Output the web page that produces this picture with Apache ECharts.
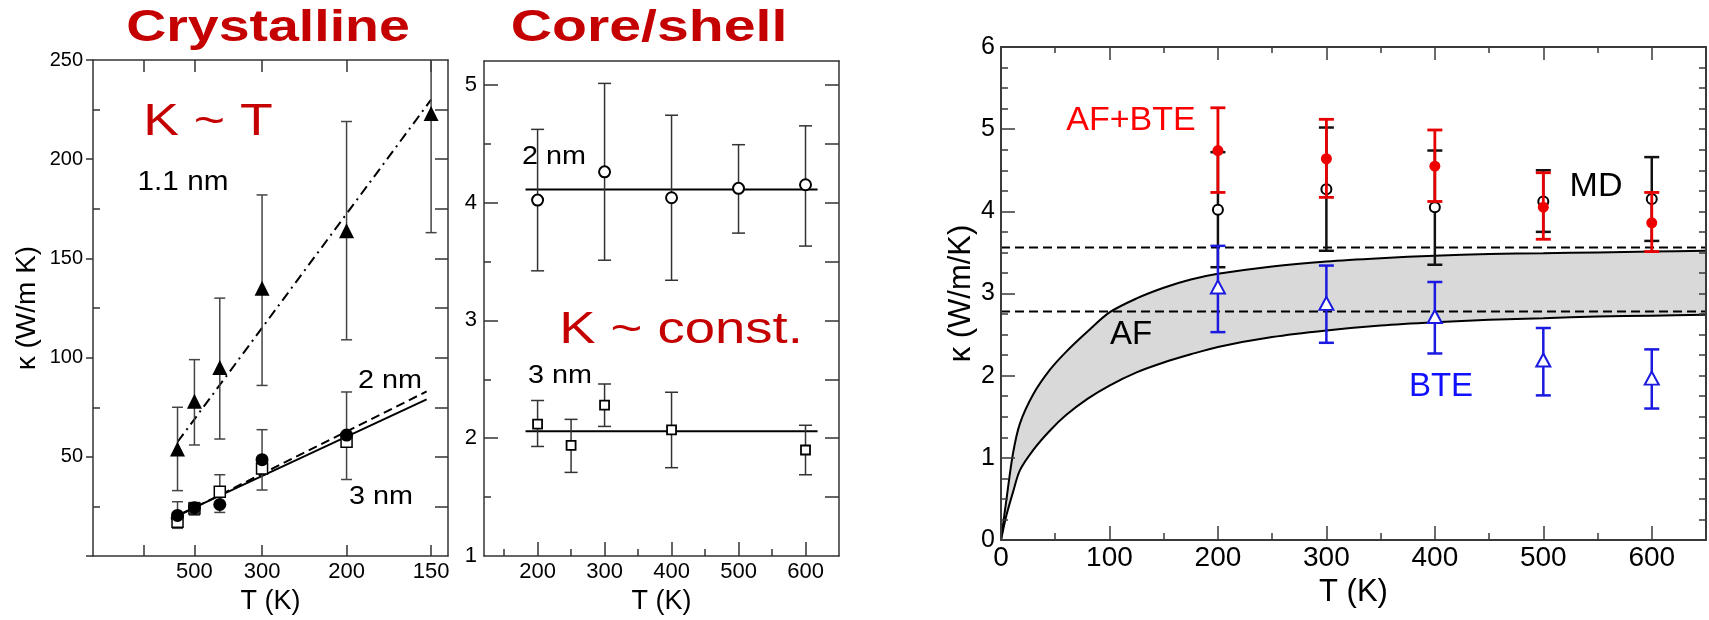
<!DOCTYPE html>
<html>
<head>
<meta charset="utf-8">
<title>Thermal conductivity of Si nanowires</title>
<script src="https://cdn.jsdelivr.net/npm/echarts@6/dist/echarts.min.js"></script>
<style>
  html, body { margin: 0; padding: 0; background: #fff; }
  #chart { width: 1709px; height: 620px; }
</style>
</head>
<body>
<div id="chart"></div>
<script>
// ---- Crystalline wires (x axis is 1000/T, labelled in T) ----
const crysT = [600, 500, 400, 300, 200, 150];
const k11 = [54, 78, 95, 135, 164, 223];          // 1.1 nm
const k11Lo = [33, 56, 59, 86, 109, 163];
const k11Hi = [75, 99, 130, 182, 219, 283];
const crysT2 = [600, 500, 400, 300, 200];
const k2nm = [20.5, 24.4, 26, 48.6, 61];          // 2 nm
const k3nm = [17.3, 24, 32.4, 44.2, 57.6];        // 3 nm
const kLowLo = [14, 20.7, 22, 33.3, 38.6];        // bars of the 2 / 3 nm points
const kLowHi = [27.4, 27, 41, 63.7, 82.7];
const fitT11 = [600, 150];
const fit11 = [57.5, 230];
const fitT23 = [650, 152];
const fit2nm = [18.5, 83];
const fit3nm = [19, 79];
const crysTickT = [1000, 500, 300, 200, 150];
const crysLabelT = [500, 300, 200, 150];

// ---- Core/shell wires ----
const csT2 = [200, 300, 400, 500, 600];
const cs2 = [4.02, 4.26, 4.04, 4.12, 4.15];
const cs2Lo = [3.42, 3.51, 3.34, 3.74, 3.63];
const cs2Hi = [4.62, 5.01, 4.74, 4.49, 4.65];
const csT3 = [200, 250, 300, 400, 600];
const cs3 = [2.12, 1.94, 2.28, 2.07, 1.90];
const cs3Lo = [1.93, 1.71, 2.10, 1.75, 1.69];
const cs3Hi = [2.32, 2.16, 2.46, 2.39, 2.11];
const csFitT = [182, 618];
const csFit2 = 4.11;
const csFit3 = 2.06;

// ---- MD / AF / BTE comparison ----
const tT = [200, 300, 400, 500, 600];
const md = [4.02, 4.27, 4.05, 4.12, 4.15];
const mdLo = [3.32, 3.52, 3.35, 3.75, 3.64];
const mdHi = [4.72, 5.02, 4.74, 4.50, 4.66];
const afbte = [4.74, 4.64, 4.55, 4.05, 3.86];
const afbteLo = [4.23, 4.17, 4.12, 3.66, 3.51];
const afbteHi = [5.26, 5.12, 4.99, 4.47, 4.23];
const bte = [3.08, 2.88, 2.72, 2.19, 1.97];
const bteLo = [2.53, 2.40, 2.27, 1.76, 1.60];
const bteHi = [3.58, 3.34, 3.14, 2.58, 2.32];
const afLevels = [3.56, 2.78];
const afT = [0, 5, 11, 17.5, 30, 45, 60, 80, 100, 125, 150, 175, 200, 250, 300, 350, 400, 450, 500, 550, 600, 650];
const afUpper = [0, 0.49, 1.05, 1.42, 1.78, 2.07, 2.29, 2.54, 2.77, 2.94, 3.07, 3.17, 3.24, 3.33, 3.39, 3.43, 3.46, 3.48, 3.49, 3.50, 3.51, 3.52];
const afLower = [0, 0.30, 0.58, 0.85, 1.10, 1.33, 1.52, 1.72, 1.88, 2.04, 2.16, 2.26, 2.35, 2.47, 2.55, 2.61, 2.65, 2.68, 2.70, 2.72, 2.73, 2.74];

const inv = t => 1000 / t;
const zip = (xs, ys, fx) => xs.map((x, i) => [fx ? fx(x) : x, ys[i]]);
const zip3 = (xs, a, b, fx) => xs.map((x, i) => [fx ? fx(x) : x, a[i], b[i]]);
const range = (a, b, s) => { const r = []; for (let v = a; v <= b + 1e-9; v += s) r.push(+v.toFixed(4)); return r; };
const without = (arr, ex) => arr.filter(v => !ex.some(e => Math.abs(e - v) < 1e-6));

const SANS = '"Liberation Sans", Arial, sans-serif';
const FRAME = '#333';
const FRAME3 = '#3a3a3a';

const xAxes = [];
const yAxes = [];

// one axis carrying ticks (and optionally labels / line / name) at given values
function axis(list, o) {
  const a = {
    type: 'value', gridIndex: o.grid, position: o.pos, min: o.min, max: o.max,
    z: o.z || 0,
    splitLine: { show: false },
    axisLine: { show: !!o.line, onZero: false, lineStyle: { color: o.color || FRAME, width: o.lw || 1.5 } },
    axisTick: { show: !!o.ticks, inside: o.inside !== false, length: o.len || 8,
                customValues: o.ticks || [], lineStyle: { color: o.color || FRAME, width: o.tw || 1.5 } },
    axisLabel: { show: !!o.labels, customValues: o.labels || [], margin: o.margin || 6,
                 color: '#000', fontFamily: o.font || SANS, fontSize: o.fs || 20,
                 formatter: o.fmt, showMinLabel: true, showMaxLabel: true, hideOverlap: false }
  };
  if (o.name) {
    a.name = o.name; a.nameLocation = 'middle'; a.nameGap = o.nameGap;
    a.nameRotate = o.nameRotate || 0;
    a.nameTextStyle = { fontFamily: SANS, fontSize: o.nfs, color: '#000' };
  }
  list.push(a);
  return list.length - 1;
}

// ---------- panel 1 : crystalline ----------
const p1 = {};
const crysTicks = crysTickT.map(inv);
const crysLabels = crysLabelT.map(inv);
p1.x = axis(xAxes, { grid: 0, pos: 'bottom', min: 0, max: 7, line: true, ticks: crysTicks, len: 11,
  labels: crysLabels, fs: 22, margin: 5, fmt: v => String(Math.round(1000 / v)),
  name: 'T (K)', nameGap: 31, nfs: 27 });
axis(xAxes, { grid: 0, pos: 'top', min: 0, max: 7, line: true, ticks: crysTicks, len: 12 });
p1.y = axis(yAxes, { grid: 0, pos: 'left', min: 0, max: 250, line: true, ticks: range(0, 250, 50),
  inside: false, len: 7, labels: range(50, 250, 50), fs: 20, margin: 10,
  name: 'κ (W/m K)', nameGap: 52, nameRotate: 90, nfs: 28 });
axis(yAxes, { grid: 0, pos: 'left', min: 0, max: 250, ticks: range(25, 225, 50), len: 7 });
axis(yAxes, { grid: 0, pos: 'right', min: 0, max: 250, line: true, ticks: range(25, 225, 25), len: 13 });

// ---------- panel 2 : core/shell ----------
const p2 = {};
p2.x = axis(xAxes, { grid: 1, pos: 'bottom', min: 120, max: 650, line: true, ticks: range(200, 600, 100), len: 14,
  labels: range(200, 600, 100), fs: 22, margin: 5, name: 'T (K)', nameGap: 31, nfs: 27 });
axis(xAxes, { grid: 1, pos: 'bottom', min: 120, max: 650, ticks: range(150, 550, 100), len: 7 });
axis(xAxes, { grid: 1, pos: 'top', min: 120, max: 650, line: true });
p2.y = axis(yAxes, { grid: 1, pos: 'left', min: 1, max: 5.2, line: true, ticks: range(2, 5, 1), len: 14,
  labels: range(1, 5, 1), fs: 22, margin: 7 });
axis(yAxes, { grid: 1, pos: 'left', min: 1, max: 5.2, ticks: range(1.5, 4.5, 1), len: 7 });
axis(yAxes, { grid: 1, pos: 'right', min: 1, max: 5.2, line: true, ticks: range(1.5, 5, 0.5), len: 14 });

// ---------- panel 3 : MD / AF / BTE ----------
const p3 = {};
const c3 = { color: FRAME3, lw: 2, tw: 1.5, z: 10 };
p3.x = axis(xAxes, Object.assign({ grid: 2, pos: 'bottom', min: 0, max: 650, line: true, ticks: range(100, 600, 100), len: 14,
  labels: range(0, 600, 100), fs: 28, margin: 4, name: 'T (K)', nameGap: 34, nfs: 31 }, c3));
axis(xAxes, Object.assign({ grid: 2, pos: 'bottom', min: 0, max: 650, ticks: range(50, 550, 100), len: 7 }, c3));
axis(xAxes, Object.assign({ grid: 2, pos: 'top', min: 0, max: 650, line: true, ticks: range(100, 600, 100), len: 13 }, c3));
axis(xAxes, Object.assign({ grid: 2, pos: 'top', min: 0, max: 650, ticks: range(50, 550, 100), len: 6 }, c3));
p3.y = axis(yAxes, Object.assign({ grid: 2, pos: 'left', min: 0, max: 6, line: true, ticks: range(1, 5, 1), len: 14,
  labels: range(0, 6, 1), fs: 25, margin: 6, name: 'κ (W/m/K)', nameGap: 24, nameRotate: 90, nfs: 31 }, c3));
axis(yAxes, Object.assign({ grid: 2, pos: 'left', min: 0, max: 6, ticks: without(range(0.25, 5.75, 0.25), range(1, 5, 1)), len: 7 }, c3));
axis(yAxes, Object.assign({ grid: 2, pos: 'right', min: 0, max: 6, line: true, ticks: range(0.25, 5.75, 0.25), len: 7 }, c3));

// error bar drawn through the axes of its series
function errBars(xi, yi, rows, color, width, cap, z) {
  return {
    type: 'custom', xAxisIndex: xi, yAxisIndex: yi, clip: true, z: z, silent: true,
    encode: { x: 0, y: [1, 2] }, data: rows,
    renderItem: function (params, api) {
      const x = api.value(0);
      const a = api.coord([x, api.value(1)]);
      const b = api.coord([x, api.value(2)]);
      const st = { stroke: color, lineWidth: width, fill: null };
      return { type: 'group', children: [
        { type: 'line', shape: { x1: a[0], y1: a[1], x2: b[0], y2: b[1] }, style: st },
        { type: 'line', shape: { x1: a[0] - cap / 2, y1: a[1], x2: a[0] + cap / 2, y2: a[1] }, style: st },
        { type: 'line', shape: { x1: b[0] - cap / 2, y1: b[1], x2: b[0] + cap / 2, y2: b[1] }, style: st }
      ] };
    }
  };
}
function marks(xi, yi, data, symbol, size, fill, stroke, bw, z) {
  return { type: 'scatter', xAxisIndex: xi, yAxisIndex: yi, data: data, symbol: symbol, symbolSize: size, z: z,
    itemStyle: { color: fill, borderColor: stroke, borderWidth: bw, opacity: 1 }, silent: true };
}
function fitLine(xi, yi, data, type, width, z) {
  return { type: 'line', xAxisIndex: xi, yAxisIndex: yi, data: data, showSymbol: false, symbol: 'none', z: z,
    lineStyle: { color: '#000', width: width, type: type }, silent: true };
}
// AF bound curve; the area under it is filled grey (upper) or white (lower)
function afCurve(values, fill) {
  return { type: 'line', xAxisIndex: p3.x, yAxisIndex: p3.y, data: zip(afT, values), smooth: 0.3,
    showSymbol: false, symbol: 'none', z: 1, silent: true,
    lineStyle: { color: '#000', width: 2 }, areaStyle: { color: fill, opacity: 1, origin: 'start' } };
}

const series = [
  // crystalline
  fitLine(p1.x, p1.y, zip(fitT11, fit11, inv), [10, 5, 2, 5], 2, 2),
  fitLine(p1.x, p1.y, zip(fitT23, fit2nm, inv), [9, 5], 2, 2),
  fitLine(p1.x, p1.y, zip(fitT23, fit3nm, inv), 'solid', 2, 2),
  errBars(p1.x, p1.y, zip3(crysT, k11Lo, k11Hi, inv), '#444', 1.5, 11, 3),
  errBars(p1.x, p1.y, zip3(crysT2, kLowLo, kLowHi, inv), '#444', 1.5, 11, 3),
  marks(p1.x, p1.y, zip(crysT2, k3nm, inv), 'rect', 11, '#fff', '#000', 1.5, 4),
  marks(p1.x, p1.y, zip(crysT2, k2nm, inv), 'circle', 13, '#000', '#000', 0, 5),
  marks(p1.x, p1.y, zip(crysT, k11, inv), 'triangle', 15, '#000', '#000', 0, 5),
  // core/shell
  fitLine(p2.x, p2.y, zip(csFitT, [csFit2, csFit2]), 'solid', 2, 2),
  fitLine(p2.x, p2.y, zip(csFitT, [csFit3, csFit3]), 'solid', 2, 2),
  errBars(p2.x, p2.y, zip3(csT2, cs2Lo, cs2Hi), '#333', 1.5, 13, 3),
  errBars(p2.x, p2.y, zip3(csT3, cs3Lo, cs3Hi), '#333', 1.5, 13, 3),
  marks(p2.x, p2.y, zip(csT2, cs2), 'circle', 11, '#fff', '#000', 2, 5),
  marks(p2.x, p2.y, zip(csT3, cs3), 'rect', 9, '#fff', '#000', 1.8, 5),
  // MD / AF / BTE
  afCurve(afUpper, '#d9d9d9'),
  afCurve(afLower, '#ffffff'),
  fitLine(p3.x, p3.y, [[0, afLevels[0]], [650, afLevels[0]]], [9, 5], 2, 3),
  fitLine(p3.x, p3.y, [[0, afLevels[1]], [650, afLevels[1]]], [9, 5], 2, 3),
  errBars(p3.x, p3.y, zip3(tT, mdLo, mdHi), '#111', 2.5, 15, 4),
  marks(p3.x, p3.y, zip(tT, md), 'circle', 10, '#fff', '#000', 2, 5),
  errBars(p3.x, p3.y, zip3(tT, afbteLo, afbteHi), '#e80000', 2.8, 15, 6),
  marks(p3.x, p3.y, zip(tT, afbte), 'circle', 11, '#ee0000', '#ee0000', 0, 7),
  errBars(p3.x, p3.y, zip3(tT, bteLo, bteHi), '#1a1ae0', 2.5, 15, 6),
  marks(p3.x, p3.y, zip(tT, bte), 'triangle', [14, 13], '#fff', '#1a1ae0', 2, 7)
];

function label(text, x, y, size, color, opts) {
  opts = opts || {};
  return {
    type: 'text', x: x, y: y, z: 20, scaleX: opts.sx || 1, scaleY: 1, rotation: opts.rot || 0,
    style: { text: text, fill: color, fontFamily: SANS, fontSize: size, fontWeight: opts.bold ? 'bold' : 'normal',
             align: 'center', verticalAlign: 'middle', textAlign: 'center', textVerticalAlign: 'middle' }
  };
}
const RED = '#c40000';
const texts = [
  label('Crystalline', 268, 29, 44, RED, { bold: true, sx: 1.26 }),
  label('Core/shell', 649, 29, 44, RED, { bold: true, sx: 1.3 }),
  label('K ~ T', 208, 123, 45, RED, { sx: 1.19 }),
  label('1.1 nm', 183, 183, 27, '#000', { sx: 1.1 }),
  label('2 nm', 390, 381, 25, '#000', { sx: 1.15 }),
  label('3 nm', 381, 497, 25, '#000', { sx: 1.15 }),
  label('2 nm', 554, 157, 25, '#000', { sx: 1.15 }),
  label('K ~ const.', 681, 331, 45, RED, { sx: 1.21 }),
  label('3 nm', 560, 376, 25, '#000', { sx: 1.15 }),
  label('AF+BTE', 1131, 121, 34, '#ff0000'),
  label('MD', 1596, 187, 34, '#000'),
  label('AF', 1131, 335, 33, '#000'),
  label('BTE', 1441, 387, 33, '#1010ff')
];

const chart = echarts.init(document.getElementById('chart'), null, { renderer: 'canvas' });
chart.setOption({
  backgroundColor: '#fff',
  animation: false,
  grid: [
    { left: 93, top: 60, width: 355, height: 499 },
    { left: 484, top: 61, width: 355, height: 498 },
    { left: 1001, top: 47, width: 705, height: 493 }
  ],
  xAxis: xAxes,
  yAxis: yAxes,
  series: series,
  graphic: { elements: texts }
});
</script>
</body>
</html>
